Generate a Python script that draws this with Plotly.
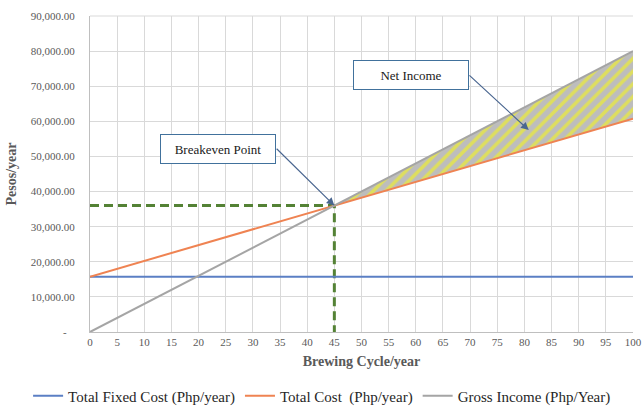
import plotly.graph_objects as go

# Break-even data (per 5 brewing cycles)
cycles = [0, 5, 10, 15, 20, 25, 30, 35, 40, 45, 50, 55, 60, 65, 70, 75, 80, 85, 90, 95, 100]
fixed_cost = [15750] * 21
total_cost = [15750, 18000, 20250, 22500, 24750, 27000, 29250, 31500, 33750, 36000, 38250,
              40500, 42750, 45000, 47250, 49500, 51750, 54000, 56250, 58500, 60750]
gross_income = [0, 4000, 8000, 12000, 16000, 20000, 24000, 28000, 32000, 36000, 40000,
                44000, 48000, 52000, 56000, 60000, 64000, 68000, 72000, 76000, 80000]
breakeven_cycle = 45
breakeven_value = 36000

y_ticks = [0, 10000, 20000, 30000, 40000, 50000, 60000, 70000, 80000, 90000]
y_tick_text = ["-\u00a0\u00a0\u00a0", "10,000.00", "20,000.00", "30,000.00", "40,000.00",
               "50,000.00", "60,000.00", "70,000.00", "80,000.00", "90,000.00"]
x_ticks = cycles

SERIF = "Liberation Serif, Times New Roman, serif"
BLUE = "#5b7fc4"
ORANGE = "#ef8352"
GRAY = "#a5a5a5"
GREEN = "#548235"
ARROW = "#4a6690"

fig = go.Figure()

# Net income region between gross income and total cost beyond breakeven
i0 = cycles.index(breakeven_cycle)
poly_x = cycles[i0:] + cycles[i0:][::-1]
poly_y = gross_income[i0:] + total_cost[i0:][::-1]
fig.add_trace(go.Scatter(
    x=poly_x, y=poly_y, mode="lines", fill="toself",
    line=dict(width=0), fillcolor="rgba(0,0,0,0)",
    fillpattern=dict(shape="/", fgcolor="#ffff00", bgcolor="#bdbdbd",
                     size=9, solidity=0.4),
    showlegend=False, hoverinfo="skip"))

# Breakeven guide lines
fig.add_trace(go.Scatter(
    x=[0, breakeven_cycle, breakeven_cycle], y=[breakeven_value, breakeven_value, 0],
    mode="lines", line=dict(color=GREEN, width=3, dash="9px,5px"),
    showlegend=False, hoverinfo="skip"))

fig.add_trace(go.Scatter(x=cycles, y=fixed_cost, mode="lines",
                         name="Total Fixed Cost (Php/year)",
                         line=dict(color=BLUE, width=2)))
fig.add_trace(go.Scatter(x=cycles, y=total_cost, mode="lines",
                         name="Total Cost\u00a0 (Php/year)",
                         line=dict(color=ORANGE, width=2)))
fig.add_trace(go.Scatter(x=cycles, y=gross_income, mode="lines",
                         name="Gross Income (Php/Year)",
                         line=dict(color=GRAY, width=2)))

box_style = dict(showarrow=False, bgcolor="white", bordercolor="#41719c", borderwidth=1,
                 width=112, height=26, font=dict(family=SERIF, size=13, color="#1a1a1a"),
                 xref="x", yref="y")
annotations = [
    dict(text="Breakeven Point", x=23.6, y=52100, **box_style),
    dict(text="Net Income", x=59.1, y=73300, **box_style),
    dict(text="", x=breakeven_cycle, y=breakeven_value, ax=34.1, ay=52600,
         xref="x", yref="y", axref="x", ayref="y", showarrow=True,
         arrowhead=2, arrowsize=1.3, arrowwidth=1.2, arrowcolor=ARROW, standoff=0),
    dict(text="", x=80.8, y=57500, ax=69.6, ay=73500,
         xref="x", yref="y", axref="x", ayref="y", showarrow=True,
         arrowhead=2, arrowsize=1.3, arrowwidth=1.2, arrowcolor=ARROW, standoff=0),
]

fig.update_layout(
    width=643, height=408,
    margin=dict(l=90, r=10, t=16, b=76, autoexpand=False),
    paper_bgcolor="white", plot_bgcolor="white",
    font=dict(family=SERIF, color="#262626"),
    annotations=annotations,
    showlegend=True,
    legend=dict(orientation="h", x=-0.114, xanchor="left", y=-0.2025, yanchor="middle",
                font=dict(family=SERIF, size=15, color="#262626"),
                itemwidth=30, tracegroupgap=0),
    xaxis=dict(range=[0, 100], tickvals=x_ticks, showgrid=True, gridcolor="#d9d9d9",
               gridwidth=1, showline=True, linecolor="#bfbfbf", linewidth=1,
               zeroline=False, ticks="", automargin=False,
               tickfont=dict(family=SERIF, size=11, color="#595959"),
               title=dict(text="<b>Brewing Cycle/year</b>", standoff=8,
                          font=dict(family=SERIF, size=14, color="#595959"))),
    yaxis=dict(range=[0, 90000], tickvals=y_ticks, ticktext=y_tick_text, showgrid=True,
               gridcolor="#d9d9d9", gridwidth=1, showline=True, linecolor="#bfbfbf",
               linewidth=1, zeroline=False, ticks="", ticklabelstandoff=12,
               automargin=False,
               tickfont=dict(family=SERIF, size=11, color="#595959"),
               title=dict(text="<b>Pesos/year</b>", standoff=10,
                          font=dict(family=SERIF, size=14, color="#595959"))),
)
fig.add_shape(type="line", xref="paper", yref="paper", x0=0, x1=1, y0=1, y1=1,
              line=dict(color="#d9d9d9", width=1), layer="below")

fig.write_html("out.html")
